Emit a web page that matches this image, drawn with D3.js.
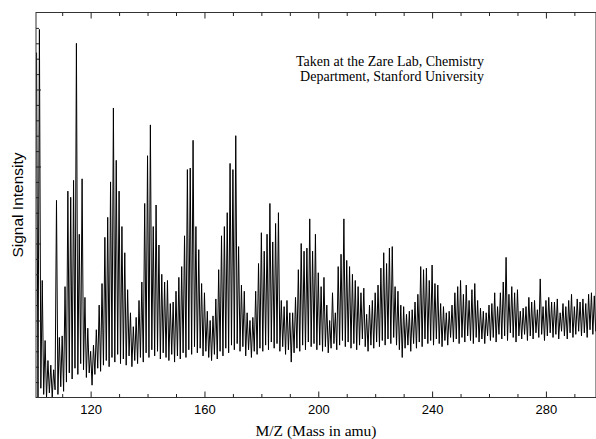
<!DOCTYPE html>
<html>
<head>
<meta charset="utf-8">
<script src="https://cdn.jsdelivr.net/npm/d3@7"></script>
<style>
  body { margin: 0; background: #fff; }
  svg { display: block; }
</style>
</head>
<body>
<div id="chart-container"></div>
<script>
// mass range of the spectrum (one spike per amu)
const firstMass = 101;

// spike heights at each integer mass 101..298 (arbitrary intensity units)
const peakValues = [
  22.4, 23.9, 7.6, 3.7, 2.4, 2.1, 1.8, 12.8, 3.9, 4.0,
  7.2, 13.4, 13.0, 14.1, 23.0, 10.6, 14.2, 6.5, 4.5, 3.0,
  3.4, 4.4, 6.0, 7.4, 10.4, 11.7, 14.0, 18.8, 15.4, 13.4,
  11.1, 9.4, 7.0, 5.5, 4.6, 5.2, 6.3, 7.5, 12.6, 15.7,
  17.7, 11.1, 12.5, 9.9, 8.0, 7.5, 7.6, 6.1, 6.2, 6.9,
  7.8, 8.5, 10.5, 14.8, 14.9, 16.7, 11.1, 9.6, 7.4, 6.8,
  5.6, 5.0, 5.3, 6.4, 8.3, 10.5, 11.1, 12.0, 15.2, 14.8,
  17.0, 9.8, 7.3, 6.9, 5.5, 5.0, 5.2, 6.9, 8.7, 10.7,
  9.5, 10.6, 12.6, 10.1, 11.3, 12.0, 6.3, 5.9, 6.3, 5.5,
  5.5, 6.5, 8.3, 10.0, 9.5, 9.7, 11.6, 9.5, 10.6, 8.1,
  7.2, 7.8, 6.0, 5.0, 6.8, 5.5, 8.5, 9.3, 11.6, 8.9,
  8.5, 8.0, 7.6, 7.2, 6.8, 7.1, 5.4, 6.0, 6.3, 6.8,
  7.3, 8.4, 9.4, 8.7, 9.7, 9.8, 7.2, 6.9, 6.0, 5.9,
  5.4, 5.6, 5.7, 6.2, 6.7, 8.5, 8.3, 8.4, 7.6, 8.6,
  7.4, 7.3, 6.1, 5.9, 5.5, 5.6, 6.0, 6.8, 7.2, 7.6,
  6.7, 7.3, 6.3, 7.0, 7.4, 6.3, 5.8, 5.6, 5.5, 6.0,
  6.1, 6.8, 5.9, 6.8, 7.5, 9.1, 6.7, 7.2, 6.8, 7.0,
  5.6, 5.8, 5.9, 6.5, 6.2, 6.3, 5.7, 7.7, 5.9, 6.3,
  6.5, 6.2, 6.2, 6.4, 5.5, 6.1, 5.9, 6.3, 6.7, 5.9,
  6.4, 6.2, 6.4, 6.1, 6.7, 6.8, 6.6, 6.0
];

// signal minimum between mass m and m+1 (m = 101..297)
const troughValues = [
  0.0, 0.6, 0.2, 0.0, 0.3, 0.0, 0.5, 0.2, 0.7, 0.4,
  1.0, 1.6, 1.2, 1.9, 1.5, 2.2, 1.8, 1.3, 1.6, 0.8,
  1.5, 1.9, 1.7, 2.1, 2.4, 2.0, 2.6, 2.3, 2.8, 2.2,
  2.5, 2.1, 2.7, 2.0, 2.4, 2.2, 2.6, 2.3, 2.9, 2.6,
  3.1, 2.7, 3.0, 2.5, 2.9, 2.6, 2.4, 2.8, 2.3, 2.7,
  2.5, 2.9, 2.6, 3.1, 2.8, 3.3, 2.9, 3.2, 2.7, 3.0,
  2.6, 2.4, 2.8, 2.5, 3.0, 2.7, 3.2, 2.9, 3.4, 3.1,
  3.5, 3.0, 3.3, 2.7, 3.1, 2.6, 3.0, 2.8, 3.2, 3.0,
  3.4, 3.1, 3.6, 3.2, 3.5, 3.0, 3.3, 2.8, 3.1, 2.3,
  2.9, 3.2, 3.0, 3.4, 3.1, 3.6, 3.3, 3.5, 3.1, 3.4,
  3.0, 3.3, 2.9, 3.2, 3.5, 3.1, 3.4, 3.7, 3.3, 3.6,
  3.2, 3.5, 3.1, 3.4, 3.8, 3.3, 3.0, 3.4, 3.2, 3.6,
  3.3, 3.7, 3.4, 3.8, 3.5, 3.9, 3.4, 3.1, 2.6, 3.2,
  3.4, 3.0, 3.5, 3.2, 3.6, 3.3, 3.8, 3.5, 3.7, 3.4,
  3.8, 3.5, 3.3, 3.7, 3.4, 3.9, 3.6, 3.8, 3.5, 3.9,
  3.6, 4.0, 3.7, 3.5, 3.9, 3.6, 3.8, 3.5, 4.0, 3.7,
  3.9, 3.6, 4.1, 3.8, 4.0, 3.7, 4.2, 3.9, 3.6, 4.0,
  3.8, 4.1, 3.7, 4.0, 3.8, 4.2, 3.9, 4.1, 3.7, 4.0,
  4.2, 3.9, 4.1, 3.8, 4.3, 4.0, 3.8, 4.2, 3.9, 4.1,
  4.3, 4.0, 4.2, 3.9, 4.4, 4.1, 4.3
];

const xTickValues = [120, 160, 200, 240, 280];
const noteLines = [
  'Taken at the Zare Lab, Chemistry',
  'Department, Stanford University'
];

//chart dimensions
const svgWidth = 596;
const svgHeight = 439;
const marginTop = 12.5;
const marginRight = 0;
const marginBottom = 41.5;
const marginLeft = 36;

// alternate spike / trough points along the mass axis
const spectrum = [];
peakValues.forEach((v, i) => {
  spectrum.push([firstMass + i, v]);
  if (i < troughValues.length) {
    spectrum.push([firstMass + i + 0.5, troughValues[i]]);
  }
});

const xScale = d3
  .scaleLinear()
  .domain([100.8, 297.6])
  .range([marginLeft, svgWidth - marginRight]);

const yScale = d3
  .scaleLinear()
  .domain([0, 25])
  .range([svgHeight - marginBottom, marginTop]);

const svg = d3
  .create('svg')
  .attr('width', svgWidth)
  .attr('height', svgHeight)
  .attr('viewBox', [0, 0, svgWidth, svgHeight]);

svg
  .append('defs')
  .append('clipPath')
  .attr('id', 'plot-clip')
  .append('rect')
  .attr('x', marginLeft)
  .attr('y', marginTop)
  .attr('width', svgWidth - marginRight - marginLeft)
  .attr('height', svgHeight - marginBottom - marginTop);

// spectrum trace
const line = d3
  .line()
  .x((d) => xScale(d[0]))
  .y((d) => yScale(d[1]));

svg
  .append('path')
  .datum(spectrum)
  .attr('clip-path', 'url(#plot-clip)')
  .attr('fill', 'none')
  .attr('stroke', '#000')
  .attr('stroke-width', 1)
  .attr('stroke-linejoin', 'miter')
  .attr('d', line);

// frame
svg
  .append('rect')
  .attr('x', marginLeft)
  .attr('y', marginTop)
  .attr('width', svgWidth - marginRight - marginLeft)
  .attr('height', svgHeight - marginBottom - marginTop)
  .attr('fill', 'none')
  .attr('stroke', '#333')
  .attr('stroke-width', 1);

const minorX = d3.range(110, 300, 10);
const minorY = d3.range(1, 25, 1);

// bottom axis, ticks pointing in
const bottomAxis = svg
  .append('g')
  .attr('transform', `translate(0,${yScale(0)})`)
  .call(
    d3.axisBottom(xScale)
      .tickValues(minorX)
      .tickSize(0)
      .tickFormat((d) => (xTickValues.includes(d) ? d : ''))
  )
  .call((g) => g.select('.domain').remove());

bottomAxis
  .selectAll('.tick line')
  .attr('y2', (d) => (xTickValues.includes(d) ? -6 : -3.5))
  .attr('stroke', '#222');

bottomAxis
  .selectAll('.tick text')
  .attr('y', 7)
  .attr('dy', '0.71em')
  .attr('fill', '#000')
  .attr('font-family', 'Liberation Sans, Arial, sans-serif')
  .attr('font-size', '13px');

// top axis mirrors the bottom ticks
svg
  .append('g')
  .attr('transform', `translate(0,${yScale(25)})`)
  .call(d3.axisTop(xScale).tickValues(minorX).tickSize(0).tickFormat(''))
  .call((g) => g.select('.domain').remove())
  .call((g) =>
    g
      .selectAll('.tick line')
      .attr('y2', (d) => (xTickValues.includes(d) ? 6 : 3.5))
      .attr('stroke', '#222')
  );

// left axis, no labels
svg
  .append('g')
  .attr('transform', `translate(${marginLeft},0)`)
  .call(d3.axisLeft(yScale).tickValues(minorY).tickSize(0).tickFormat(''))
  .call((g) => g.select('.domain').remove())
  .call((g) =>
    g
      .selectAll('.tick line')
      .attr('x2', (d) => (d % 5 === 0 ? 5 : 3))
      .attr('stroke', '#222')
  );

// axis titles
svg
  .append('text')
  .attr('x', (marginLeft + svgWidth - marginRight) / 2)
  .attr('y', 436)
  .attr('text-anchor', 'middle')
  .attr('font-family', 'Liberation Serif, Times New Roman, serif')
  .attr('font-size', '15.5px')
  .text('M/Z (Mass in amu)');

svg
  .append('text')
  .attr('transform', `translate(23,${(marginTop + svgHeight - marginBottom) / 2}) rotate(-90)`)
  .attr('text-anchor', 'middle')
  .attr('font-family', 'Liberation Sans, Arial, sans-serif')
  .attr('font-size', '15.5px')
  .text('Signal Intensity');

// annotation
svg
  .append('g')
  .selectAll('text')
  .data(noteLines)
  .join('text')
  .attr('x', 484)
  .attr('y', (d, i) => 66 + i * 14.5)
  .attr('text-anchor', 'end')
  .attr('font-family', 'Liberation Serif, Times New Roman, serif')
  .attr('font-size', '14px')
  .text((d) => d);

document.querySelector('#chart-container').append(svg.node());
</script>
</body>
</html>
